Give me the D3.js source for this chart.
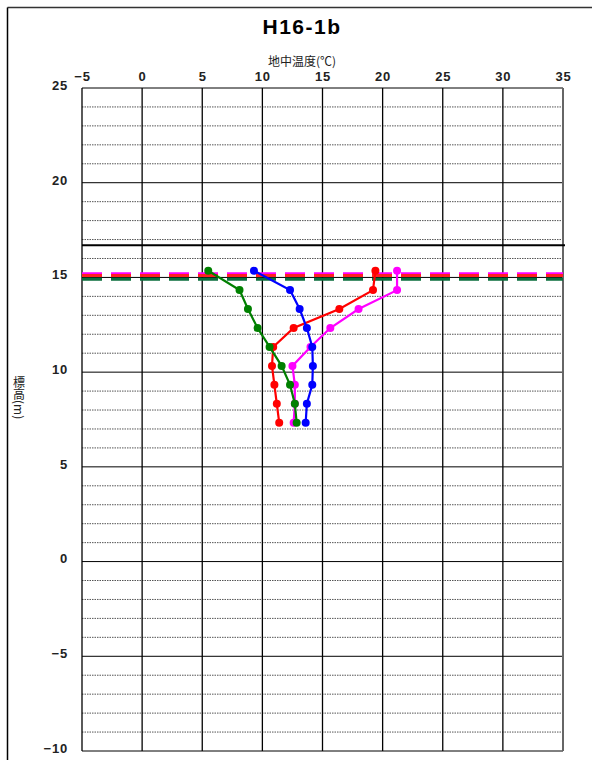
<!DOCTYPE html>
<html><head><meta charset="utf-8">
<script src="https://cdn.jsdelivr.net/npm/d3@7"></script>
<style>body{margin:0;background:#fff}svg{display:block}</style>
</head><body><svg id="c" width="592" height="760"></svg>
<script>
const elevations = [15.35, 14.33, 13.33, 12.33, 11.33, 10.33, 9.33, 8.33, 7.33];
const tempGreen   = [5.5, 8.1, 8.8, 9.6, 10.6, 11.6, 12.3, 12.7, 12.85];
const tempBlue    = [9.3, 12.3, 13.1, 13.7, 14.15, 14.2, 14.15, 13.7, 13.6];
const tempRed     = [19.4, 19.2, 16.4, 12.6, 10.9, 10.8, 11.0, 11.2, 11.4];
const tempMagenta = [21.2, 21.2, 18.0, 15.65, 14.0, 12.5, 12.7, 12.7, 12.6];
const seriesNames = ["magenta", "red", "blue", "green"];
const seriesColors = ["#ff00ff", "#ff0000", "#0000ff", "#008000"];
const waterLevels = [15.2, 15.1, 14.9];
const waterColors = ["#ff00ff", "#ff2020", "#0a6e3c"];
const groundLevel = 16.7;
const xTicks = [-5, 0, 5, 10, 15, 20, 25, 30, 35];
const yTicks = [-10, -5, 0, 5, 10, 15, 20, 25];
const yMinor = d3.range(-10, 26, 1);
const title = "H16-1b";
const xLabel = "地中温度(℃)";
const yLabel = "標高(m)";

const svg = d3.select("#c");
const L = 82, R = 563, T = 88, B = 751;
const x = d3.scaleLinear().domain([-5, 35]).range([L, R]);
const y = d3.scaleLinear().domain([-10, 25]).range([B, T]);

// outer frame
svg.append("line").attr("x1",7.5).attr("x2",592).attr("y1",7.5).attr("y2",7.5).attr("stroke","#333").attr("stroke-width",1.5);
svg.append("line").attr("x1",7.5).attr("x2",7.5).attr("y1",7.5).attr("y2",760).attr("stroke","#000").attr("stroke-width",1.5);

// minor grid (dotted)
svg.append("g").selectAll("line").data(yMinor.filter(v => v % 5 !== 0)).join("line")
  .attr("x1", L).attr("x2", R).attr("y1", d => y(d)).attr("y2", d => y(d))
  .attr("stroke", "#555").attr("stroke-width", 1).attr("stroke-dasharray", "1.5,1");
// major horizontal grid
svg.append("g").selectAll("line").data(yTicks).join("line")
  .attr("x1", L).attr("x2", R).attr("y1", d => y(d)).attr("y2", d => y(d))
  .attr("stroke", "#000").attr("stroke-width", 1);
// vertical grid
svg.append("g").selectAll("line").data(xTicks).join("line")
  .attr("x1", d => x(d)).attr("x2", d => x(d)).attr("y1", T).attr("y2", B)
  .attr("stroke", (d,i) => (i === xTicks.length-1 ? "#666" : "#000")).attr("stroke-width", (d,i) => i === xTicks.length-1 ? 2 : 1.3);

// axes labels via d3 axes
const fmt = d => d < 0 ? "\u2212" + Math.abs(d) : String(d);
const xAxis = svg.append("g").attr("transform", `translate(0,${T})`)
  .call(d3.axisTop(x).tickValues(xTicks).tickSize(0).tickPadding(7).tickFormat(fmt));
const yAxis = svg.append("g").attr("transform", `translate(${L},0)`)
  .call(d3.axisLeft(y).tickValues(yTicks).tickSize(0).tickPadding(14).tickFormat(fmt));
[xAxis, yAxis].forEach(a => {
  a.select(".domain").remove();
  a.selectAll("text").attr("font-family", "'Liberation Sans', Arial, sans-serif")
    .attr("font-size", 13).attr("font-weight", "bold").attr("fill", "#222")
    .attr("letter-spacing", 0.8);
});
yAxis.selectAll("text").attr("dy", "0.1em");

// ground level line
svg.append("line").attr("x1", L).attr("x2", R + 2).attr("y1", y(groundLevel)).attr("y2", y(groundLevel))
  .attr("stroke", "#000").attr("stroke-width", 2);

// water level dashed lines
svg.append("g").selectAll("line").data(waterLevels).join("line")
  .attr("x1", L).attr("x2", R).attr("y1", d => y(d)).attr("y2", d => y(d))
  .attr("stroke", (d,i) => waterColors[i]).attr("stroke-width", 3).attr("stroke-dasharray", "20,9");

// series
const seriesData = [tempMagenta, tempRed, tempBlue, tempGreen];
const line = d3.line().x(d => x(d[0])).y(d => y(d[1]));
seriesData.forEach((temps, i) => {
  const pts = temps.map((t, j) => [t, elevations[j]]);
  const g = svg.append("g").attr("class", seriesNames[i]);
  g.append("path").datum(pts).attr("d", line).attr("fill", "none")
    .attr("stroke", seriesColors[i]).attr("stroke-width", 2.2);
  g.selectAll("circle").data(pts).join("circle")
    .attr("cx", d => x(d[0])).attr("cy", d => y(d[1])).attr("r", 4)
    .attr("fill", seriesColors[i]);
});

// title & axis titles
svg.append("text").attr("x", 302).attr("y", 34).attr("text-anchor", "middle")
  .attr("font-family", "'Liberation Sans', Arial, sans-serif").attr("font-size", 21).attr("font-weight", "bold")
  .attr("letter-spacing", 1.5).text(title);
svg.append("text").attr("x", 302).attr("y", 66).attr("text-anchor", "middle")
  .attr("font-family", "'Noto Sans CJK JP', sans-serif").attr("font-size", 12).attr("fill", "#222")
  .text(xLabel);
svg.append("text").attr("x", 19).attr("y", 376)
  .attr("style", "writing-mode: vertical-rl; text-orientation: mixed;")
  .attr("font-family", "'Noto Sans CJK JP', sans-serif").attr("font-size", 12).attr("fill", "#222")
  .text(yLabel);
</script></body></html>
